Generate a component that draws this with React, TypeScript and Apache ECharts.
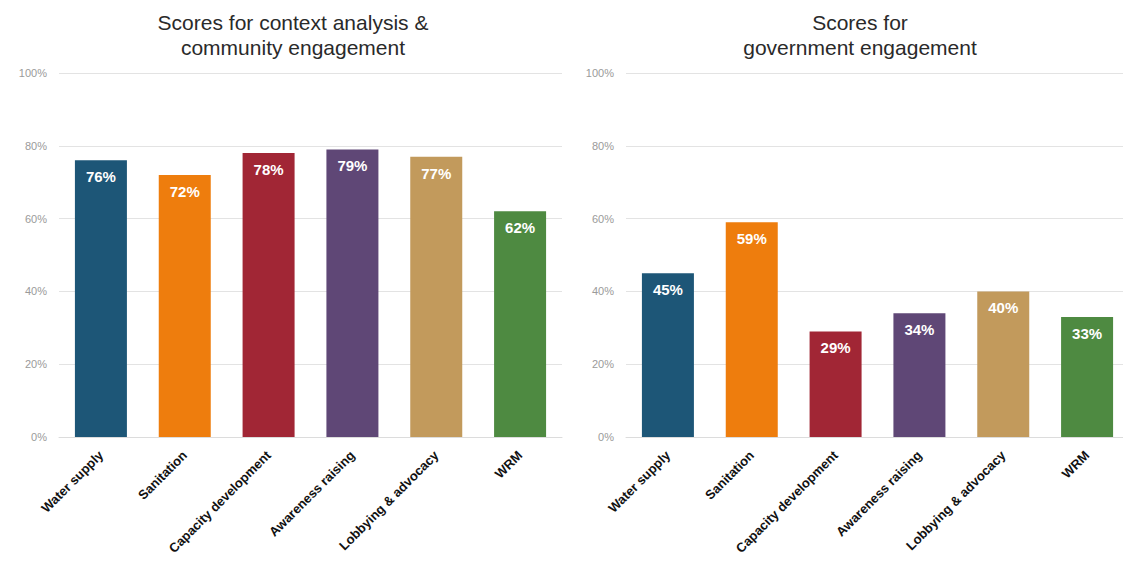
import React, { useEffect, useRef } from "react";
import * as echarts from "echarts";

const categories = ["Water supply", "Sanitation", "Capacity development", "Awareness raising", "Lobbying & advocacy", "WRM"];
const communityScores = [76, 72, 78, 79, 77, 62];
const governmentScores = [45, 59, 29, 34, 40, 33];
const barColors = ["#1d5677", "#ee7d0d", "#a12635", "#5f4776", "#c29a5c", "#4e8a41"];
const titles = ["Scores for context analysis &\ncommunity engagement", "Scores for\ngovernment engagement"];

const FONT = "'Liberation Sans', Arial, sans-serif";

export default function App() {
  const ref = useRef<HTMLDivElement>(null);
  useEffect(() => {
    if (!ref.current) return;
    const chart = echarts.init(ref.current, null, { renderer: "svg" });
    const grids = [
      { left: 59, width: 503, top: 73, height: 364 },
      { left: 626, width: 503, top: 73, height: 364 },
    ];
    const mkX = (i: number) => ({
      type: "category",
      gridIndex: i,
      data: categories,
      axisLine: { show: true, lineStyle: { color: "#dcdcdc" } },
      axisTick: { show: false },
      axisLabel: {
        interval: 0,
        rotate: 45,
        color: "#111",
        fontWeight: "bold",
        fontSize: 13,
        fontFamily: FONT,
        margin: 16,
      },
    });
    const mkY = (i: number) => ({
      type: "value",
      gridIndex: i,
      min: 0,
      max: 100,
      interval: 20,
      axisLine: { show: false },
      axisTick: { show: false },
      splitLine: { lineStyle: { color: "#e3e3e3", width: 1 } },
      axisLabel: {
        formatter: "{value}%",
        color: "#9a9a9a",
        fontSize: 11,
        fontFamily: FONT,
        margin: 12,
      },
    });
    const mkSeries = (i: number, data: number[]) => ({
      type: "bar",
      xAxisIndex: i,
      yAxisIndex: i,
      barWidth: 52,
      data: data.map((v, k) => ({ value: v, itemStyle: { color: barColors[k] } })),
      label: {
        show: true,
        position: "insideTop",
        distance: 9,
        formatter: "{c}%",
        color: "#fff",
        fontWeight: "bold",
        fontSize: 15,
        fontFamily: FONT,
      },
    });
    const titleStyle = { fontSize: 21, fontWeight: "normal", color: "#2a2a2a", fontFamily: FONT, lineHeight: 25 };
    chart.setOption({
      animation: false,
      backgroundColor: "#fff",
      title: [
        { text: titles[0], left: 288, top: 5, textAlign: "center", textStyle: titleStyle },
        { text: titles[1], left: 855, top: 5, textAlign: "center", textStyle: titleStyle },
      ],
      grid: grids,
      xAxis: [mkX(0), mkX(1)],
      yAxis: [mkY(0), mkY(1)],
      series: [mkSeries(0, communityScores), mkSeries(1, governmentScores)],
    });
    return () => chart.dispose();
  }, []);
  return (
    <div style={{ position: "fixed", left: 0, top: 0, width: 1123, height: 563, overflow: "hidden", background: "#fff" }}>
      <div ref={ref} style={{ position: "absolute", left: 0, top: 0, width: 1140, height: 563 }} />
    </div>
  );
}
